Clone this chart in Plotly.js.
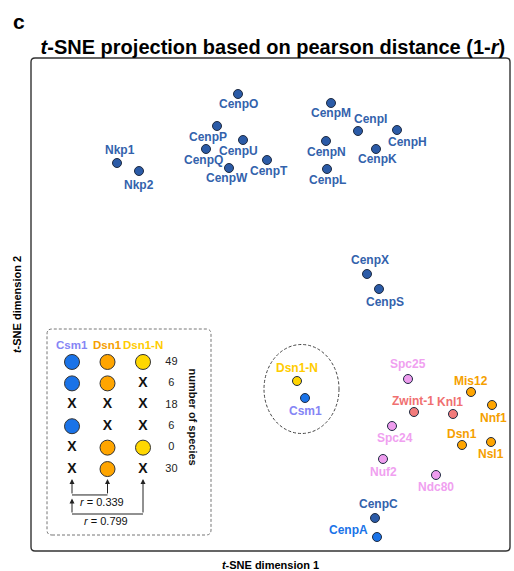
<!DOCTYPE html>
<html>
<head>
<meta charset="utf-8">
<script src="https://cdn.plot.ly/plotly-3.0.1.min.js"></script>
<style>html,body{margin:0;padding:0;background:#fff;}#chart{width:514px;height:571px;}</style>
</head>
<body>
<div id="chart"></div>
<script>
// ---- main t-SNE data ----
const names = ["CenpO","CenpP","CenpU","CenpQ","CenpW","CenpT","Nkp1","Nkp2",
  "CenpM","CenpI","CenpH","CenpN","CenpK","CenpL","CenpX","CenpS",
  "Dsn1-N","Csm1","Spc25","Mis12","Zwint-1","Knl1","Nnf1","Spc24","Dsn1","Nsl1","Nuf2","Ndc80",
  "CenpC","CenpA"];
const tsne1 = [-3.2,-5.3,-2.7,-6.4,-4.1,-0.3,-15.3,-13.1,
  6.1,8.8,12.7,5.6,10.6,5.7,9.7,10.9,
  2.7,3.5,13.8,20.1,14.4,18.3,22.2,12.2,19.2,22.1,11.3,16.6,
  10.5,10.7];
const tsne2 = [20.6,17.4,16.0,15.1,13.2,14.0,13.7,12.9,
  19.7,16.9,17.0,15.9,15.1,13.1,2.6,1.1,
  -8.1,-9.8,-7.9,-9.2,-11.2,-11.4,-10.5,-12.6,-14.5,-14.2,-15.9,-17.5,
  -21.8,-23.7];
const groups = ["ccan","ccan","ccan","ccan","ccan","ccan","ccan","ccan",
  "ccan","ccan","ccan","ccan","ccan","ccan","ccan","ccan",
  "dsn1n","csm1","ndc80","mis12","knl1","knl1","mis12","ndc80","mis12","mis12","ndc80","ndc80",
  "ccan","cenpa"];

// ---- inset table data ----
const insetColumns = ["Csm1","Dsn1","Dsn1-N"];
const csm1Present  = [1,1,0,1,0,0];
const dsn1Present  = [1,1,0,0,1,1];
const dsn1NPresent = [1,0,0,0,1,0];
const speciesCount = [49,6,18,6,0,30];
const corrLabels = ["0.339","0.799"];

// ---- styles ----
const groupStyle = {
  ccan:  {fill:"#2B5BA7", label:"#3362AC"},
  cenpa: {fill:"#1A73E8", label:"#1A73E8"},
  csm1:  {fill:"#1A73E8", label:"#8585F5"},
  dsn1n: {fill:"#FFD400", label:"#FFCC00"},
  mis12: {fill:"#FFA500", label:"#F5A000"},
  knl1:  {fill:"#F27B7B", label:"#F07070"},
  ndc80: {fill:"#EE9CEE", label:"#F0A0F0"}
};
const colColors = {"Csm1":"#1A73E8","Dsn1":"#FFA500","Dsn1-N":"#FFD700"};
const colHeadColors = {"Csm1":"#8585F5","Dsn1":"#F5A000","Dsn1-N":"#FFCC00"};
// label offsets in px (dx right, dy down) relative to the point
const labelOffsets = {
  "CenpO":[0,10],"CenpP":[-9,11],"CenpU":[-5,11],"CenpQ":[-3,11],"CenpW":[-2,10],"CenpT":[2,11],
  "Nkp1":[3,-13],"Nkp2":[0,14],"CenpM":[0,10],"CenpI":[12,-12],"CenpH":[10,12],"CenpN":[0,11],
  "CenpK":[1,10],"CenpL":[0,11],"CenpX":[3,-14],"CenpS":[6,13],"Dsn1-N":[0,-13],"Csm1":[0,13],
  "Spc25":[0,-15],"Mis12":[0,-11],"Zwint-1":[-1,-11],"Knl1":[-3,-12],"Nnf1":[1,13],"Spc24":[3,12],
  "Dsn1":[0,-11],"Nsl1":[0,12],"Nuf2":[0,13],"Ndc80":[0,12],"CenpC":[3,-14],"CenpA":[-29,-7]
};
const FONT = "Liberation Sans, Arial, sans-serif";
const plotL = 31, plotT = 58, plotW = 479, plotH = 493;
const pxToPaperX = px => (px - plotL) / plotW;
const pxToPaperY = py => (plotT + plotH - py) / plotH;

const traces = [];
traces.push({
  type:"scatter", mode:"markers", x:tsne1, y:tsne2, xaxis:"x", yaxis:"y",
  marker:{size:9, color:groups.map(g=>groupStyle[g].fill), line:{color:"#1e2a40", width:1}},
  hoverinfo:"text", text:names, showlegend:false
});

const annotations = [];
names.forEach((n,i)=>{
  const off = labelOffsets[n] || [0,11];
  annotations.push({x:tsne1[i], y:tsne2[i], xref:"x", yref:"y", text:"<b>"+n+"</b>",
    showarrow:false, xshift:off[0], yshift:-off[1],
    font:{family:FONT, size:12, color:groupStyle[groups[i]].label}});
});

// inset: circles and X marks
const presence = {"Csm1":csm1Present, "Dsn1":dsn1Present, "Dsn1-N":dsn1NPresent};
insetColumns.forEach((c,ci)=>{
  const rowsP = [], rowsA = [];
  presence[c].forEach((p,ri)=>{ (p ? rowsP : rowsA).push(ri); });
  traces.push({type:"scatter", mode:"markers", xaxis:"x2", yaxis:"y2",
    x:rowsP.map(()=>ci), y:rowsP,
    marker:{size:15, color:colColors[c], line:{color:"#333", width:1}}, showlegend:false, hoverinfo:"skip"});
  traces.push({type:"scatter", mode:"text", xaxis:"x2", yaxis:"y2",
    x:rowsA.map(()=>ci), y:rowsA, text:rowsA.map(()=>"<b>X</b>"),
    textfont:{family:FONT, size:14, color:"#111"}, showlegend:false, hoverinfo:"skip"});
  annotations.push({x:ci, y:-0.8, xref:"x2", yref:"y2", showarrow:false,
    text:"<b>"+c+"</b>", font:{family:FONT, size:11.5, color:colHeadColors[c]}});
});
traces.push({type:"scatter", mode:"text", xaxis:"x2", yaxis:"y2",
  x:speciesCount.map(()=>2.8), y:speciesCount.map((v,i)=>i), text:speciesCount.map(String),
  textfont:{family:FONT, size:11, color:"#222"}, showlegend:false, hoverinfo:"skip"});
annotations.push({x:3.41, y:2.55, xref:"x2", yref:"y2", showarrow:false, textangle:90,
  text:"<b>number of species</b>", font:{family:FONT, size:11, color:"#111"}});

// correlation brackets
const arrowDefs = [[0,6.21,5.47],[1,6.21,5.47],[0,7.1,6.38],[2,7.1,5.47]];
arrowDefs.forEach(a=>{
  annotations.push({x:a[0], y:a[2], ax:a[0], ay:a[1], xref:"x2", yref:"y2", axref:"x2", ayref:"y2",
    text:"", showarrow:true, arrowhead:2, arrowsize:1, arrowwidth:1, arrowcolor:"#222", standoff:0, startstandoff:0});
});
annotations.push({x:0.85, y:6.56, xref:"x2", yref:"y2", showarrow:false,
  text:"<i>r</i> = "+corrLabels[0], font:{family:FONT, size:11, color:"#111"}});
annotations.push({x:0.97, y:7.42, xref:"x2", yref:"y2", showarrow:false,
  text:"<i>r</i> = "+corrLabels[1], font:{family:FONT, size:11, color:"#111"}});

// panel letter
annotations.push({x:pxToPaperX(11), y:pxToPaperY(22), xref:"paper", yref:"paper", showarrow:false,
  xanchor:"left", yanchor:"middle", text:"<b>c</b>", font:{family:FONT, size:21, color:"#000"}});

function roundRect(x0,y0,x1,y1,rx,ry){
  return `M ${x0+rx},${y0} L ${x1-rx},${y0} Q ${x1},${y0} ${x1},${y0+ry} L ${x1},${y1-ry} Q ${x1},${y1} ${x1-rx},${y1} `+
         `L ${x0+rx},${y1} Q ${x0},${y1} ${x0},${y1-ry} L ${x0},${y0+ry} Q ${x0},${y0} ${x0+rx},${y0} Z`;
}
const csmIdx = names.indexOf("Csm1"), dnIdx = names.indexOf("Dsn1-N");
const cx = (tsne1[csmIdx]+tsne1[dnIdx])/2, cy = (tsne2[csmIdx]+tsne2[dnIdx])/2;
const shapes = [
  {type:"path", xref:"paper", yref:"paper", path:roundRect(0,0,1,1,4/plotW,4/plotH),
   line:{color:"#333", width:1.4}, fillcolor:"rgba(0,0,0,0)"},
  {type:"path", xref:"paper", yref:"paper",
   path:roundRect(pxToPaperX(47),pxToPaperY(535),pxToPaperX(211),pxToPaperY(329),5/plotW,5/plotH),
   line:{color:"#777", width:1, dash:"3px,2px"}, fillcolor:"rgba(0,0,0,0)"},
  {type:"circle", xref:"x", yref:"y", x0:cx-3.7, x1:cx+3.8, y0:cy-4.4, y1:cy+4.5,
   line:{color:"#444", width:1, dash:"3px,2px"}},
  {type:"line", xref:"x2", yref:"y2", x0:0, x1:1, y0:6.21, y1:6.21, line:{color:"#222", width:1}},
  {type:"line", xref:"x2", yref:"y2", x0:0, x1:2, y0:7.1, y1:7.1, line:{color:"#222", width:1}}
];

const hidden = {showgrid:false, zeroline:false, showticklabels:false, ticks:"", showline:false};
const layout = {
  width:514, height:571,
  margin:{l:plotL, r:514-plotL-plotW, t:plotT, b:571-plotT-plotH, pad:0},
  paper_bgcolor:"#fff", plot_bgcolor:"#fff",
  showlegend:false,
  title:{text:"<b><i>t</i>-SNE projection based on pearson distance (1-<i>r</i>)</b>",
    font:{family:FONT, size:20, color:"#000"}, xref:"paper", x:0.505, xanchor:"center",
    yref:"container", y:1-47/571, yanchor:"middle"},
  xaxis:Object.assign({}, hidden, {range:[-23.9,24.0], domain:[0,1],
    title:{text:"<b><i>t</i>-SNE dimension 1</b>", font:{family:FONT, size:11, color:"#000"}, standoff:11}}),
  yaxis:Object.assign({}, hidden, {range:[-25.1,24.2], domain:[0,1],
    title:{text:"<b><i>t</i>-SNE dimension 2</b>", font:{family:FONT, size:11, color:"#000"}, standoff:6}}),
  xaxis2:Object.assign({}, hidden, {range:[-0.704,3.915], domain:[pxToPaperX(47),pxToPaperX(211)], anchor:"y2"}),
  yaxis2:Object.assign({}, hidden, {range:[8.08,-1.54], domain:[pxToPaperY(535),pxToPaperY(329)], anchor:"x2"}),
  annotations:annotations,
  shapes:shapes
};
Plotly.newPlot("chart", traces, layout, {staticPlot:true, displayModeBar:false});
</script>
</body>
</html>
